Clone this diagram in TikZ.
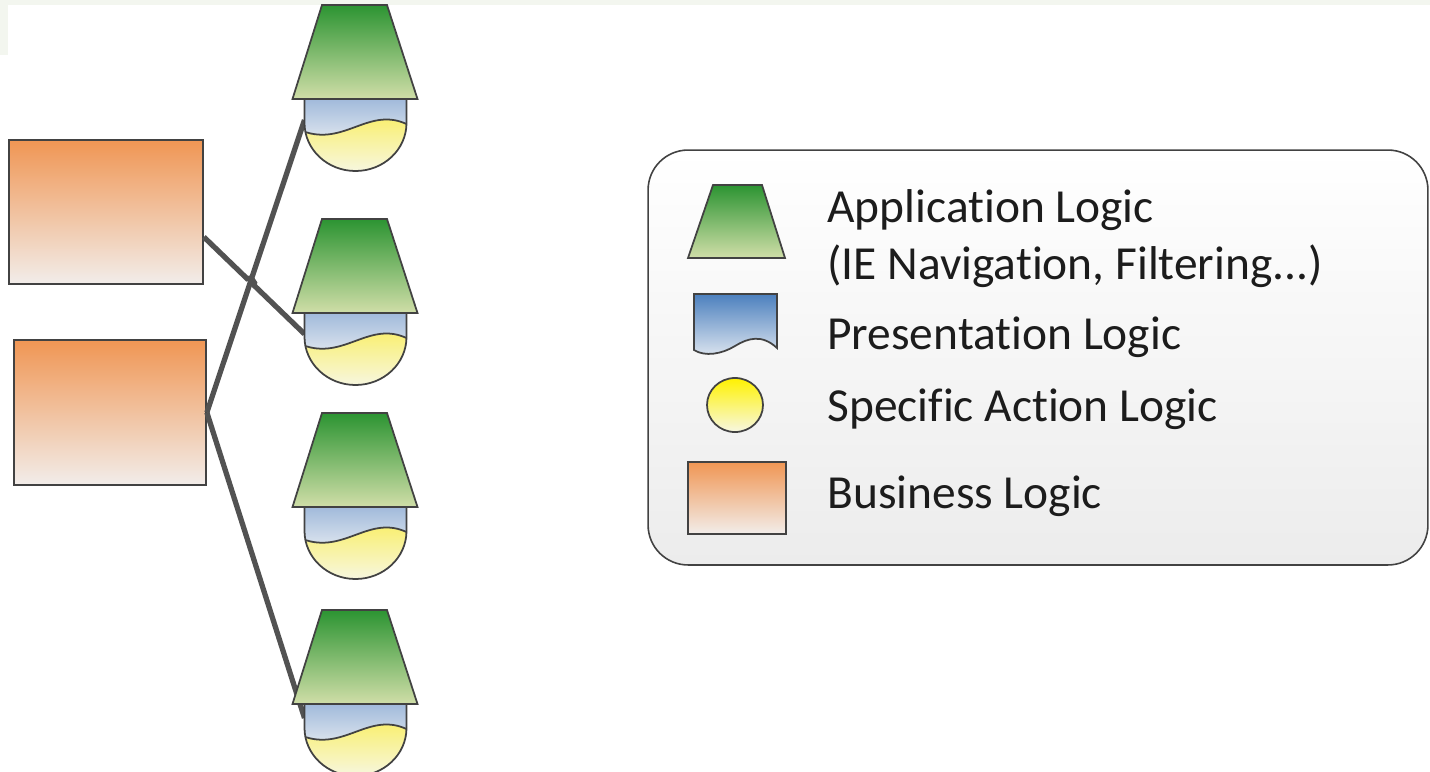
\documentclass[tikz,border=0pt]{standalone}
\usepackage{fontspec}
\setmainfont{Carlito}[Ligatures=NoCommon]
\usepackage{xcolor}
\usetikzlibrary{calc}

\definecolor{edgegray}{RGB}{66,66,66}
\definecolor{linkgray}{RGB}{82,82,82}
\definecolor{apptop}{RGB}{44,148,50}
\definecolor{appbot}{RGB}{208,222,168}
\definecolor{prestop}{RGB}{158,184,218}
\definecolor{presbot}{RGB}{234,238,243}
\definecolor{legpres}{RGB}{76,128,190}
\definecolor{legpresbot}{RGB}{222,230,240}
\definecolor{acttop}{RGB}{249,239,112}
\definecolor{actbot}{RGB}{247,247,226}
\definecolor{legact}{RGB}{255,242,0}
\definecolor{biztop}{RGB}{240,150,84}
\definecolor{bizbot}{RGB}{242,237,234}
\definecolor{legendbot}{RGB}{236,236,236}
\definecolor{paper}{RGB}{243,246,239}
\definecolor{inktext}{RGB}{28,28,28}

% one application/presentation/action stack, #1 = x, #2 = y of the top edge
\newcommand{\logicstack}[2]{%
\begin{scope}[shift={(#1,#2)}]
  \begin{scope}
    \clip (-50,94) -- (52,94) -- (52,118) .. controls (52,144.5) and (29.2,166) .. (1,166)
          .. controls (-27.2,166) and (-50,144.5) .. (-50,118) -- cycle;
    \fill[top color=acttop,bottom color=actbot] (-52,112) rectangle (54,168);
    \fill[top color=prestop,bottom color=presbot] (-52,92) -- (-52,126)
          .. controls (-10,142) and (15,100) .. (54,120) -- (54,92) -- cycle;
    \draw[shapeline] (-52,126) .. controls (-10,142) and (15,100) .. (54,120);
  \end{scope}
  \draw[shapeline] (-50,94) -- (52,94) -- (52,118) .. controls (52,144.5) and (29.2,166) .. (1,166)
        .. controls (-27.2,166) and (-50,144.5) .. (-50,118) -- cycle;
  \draw[shapeline,top color=apptop,bottom color=appbot] (-32.5,0) -- (32.5,0) -- (63,94) -- (-62,94) -- cycle;
\end{scope}}

\begin{document}
\begin{tikzpicture}[x=0.02cm,y=-0.02cm]
\tikzset{shapeline/.style={draw=edgegray,line width=1pt},
         link/.style={draw=linkgray,line width=3pt},
         bizbox/.style={shapeline,rectangle,top color=biztop,bottom color=bizbot,inner sep=0pt},
         legendbox/.style={draw=edgegray,line width=0.9pt,rounded corners=0.8cm,top color=white,bottom color=legendbot},
         legendtext/.style={anchor=base west,inner sep=0pt,align=left,text=inktext,font=\fontsize{27}{32.4}\selectfont}}
\useasboundingbox (0,0) rectangle (1430,771);
\fill[paper] (0,0) rectangle (1430,5);
\fill[paper] (0,0) rectangle (8,55);

% business logic blocks
\node[bizbox,minimum width=3.88cm,minimum height=2.88cm] (biz1) at (106,212) {};
\node[bizbox,minimum width=3.84cm,minimum height=2.9cm] (biz2) at (110,412.5) {};

% where the links meet the stacks
\coordinate (biz1out) at ($(biz1.east)+(0,25)$);
\coordinate (stk1) at (304.5,120);
\coordinate (stk2) at (304.5,334);
\coordinate (stk4) at (304.5,718);

\draw[link] (biz1out) -- ($(biz1out)!0.43!(stk2)$) to[bend left=90] ($(biz1out)!0.50!(stk2)$) -- (stk2);
\draw[link] (biz2.east) -- (stk1);
\draw[link] (biz2.east) -- (stk4);

\logicstack{354.5}{5}
\logicstack{354.5}{219}
\logicstack{354.5}{413}
\logicstack{354.5}{610}

% legend
\node[legendbox,minimum width=15.6cm,minimum height=8.3cm] (legend) at (1038,357.5) {};
\draw[shapeline,top color=apptop,bottom color=appbot] (713,185) -- (762,185) -- (785,258) -- (688,258) -- cycle;
\draw[shapeline,top color=legpres,bottom color=legpresbot] (694,294) -- (777,294) -- (777,348)
     .. controls (762,334) and (748,338) .. (735,346) .. controls (722,354) and (705,357) .. (694,350) -- cycle;
\draw[shapeline,top color=legact,bottom color=actbot] (735,405) ellipse [x radius=28,y radius=27];
\node[bizbox,minimum width=1.96cm,minimum height=1.44cm] (legbiz) at (737,498) {};

\node[legendtext] (lblapp) at (827,279) {Application Logic\\(IE Navigation, Filtering...)};
\node[legendtext] (lblpres) at (827,349) {Presentation Logic};
\node[legendtext] (lblact) at (827,421) {Specific Action Logic};
\node[legendtext] (lblbiz) at (827,508) {Business Logic};
\end{tikzpicture}
\end{document}
